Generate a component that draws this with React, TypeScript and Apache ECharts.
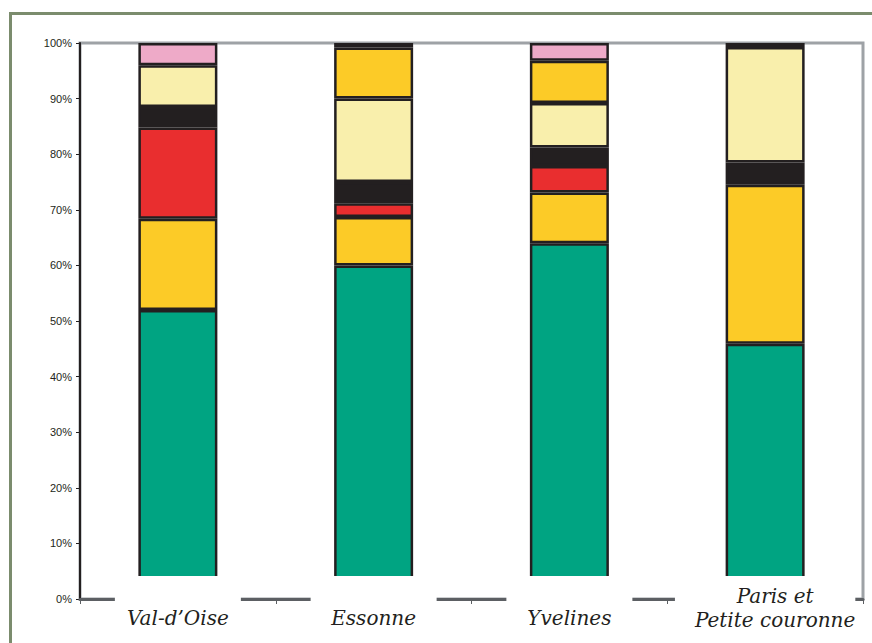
import React, { useEffect, useRef } from "react";
import * as echarts from "echarts";

const categories = ["Val-d’Oise", "Essonne", "Yvelines", "Paris et\nPetite couronne"];
const yTicks = [0, 10, 20, 30, 40, 50, 60, 70, 80, 90, 100];

const greenValues = [52.0, 60.0, 64.0, 45.9];
const yellowValues = [16.4, 8.7, 9.1, 28.6];
const redValues = [16.4, 2.5, 4.8, 0];
const blackValues = [3.7, 3.8, 3.3, 4.0];
const lightYellowValues = [7.5, 15.0, 8.0, 20.8];
const yellowTopValues = [0, 9.2, 7.6, 0];
const pinkValues = [4.0, 0.8, 3.2, 0.7];

const seriesDefs = [
  { name: "Série 1", values: greenValues, color: "#00a482" },
  { name: "Série 2", values: yellowValues, color: "#fccb27" },
  { name: "Série 3", values: redValues, color: "#e92e2f" },
  { name: "Série 4", values: blackValues, color: "#231f20" },
  { name: "Série 5", values: lightYellowValues, color: "#f9efac" },
  { name: "Série 6", values: yellowTopValues, color: "#fccb27" },
  { name: "Série 7", values: pinkValues, color: "#eeaac8" },
];

const INK = "#231f20";
const SERIF = "'DejaVu Serif', serif";

export default function App() {
  const ref = useRef<HTMLDivElement>(null);

  useEffect(() => {
    if (!ref.current) return;
    const chart = echarts.init(ref.current, null, { renderer: "svg" });
    const series = seriesDefs.map((s, si) => ({
      name: s.name,
      type: "bar",
      stack: "total",
      barWidth: 79,
      itemStyle: { color: s.color, borderColor: INK, borderWidth: 2.5 },
      data: s.values.map((v, i) => {
        if (v === 0) return "-";
        if (si === seriesDefs.length - 1 && i === 3) {
          return { value: v, itemStyle: { color: INK } };
        }
        return v;
      }),
    }));

    const axisData = categories.map((c, i) =>
      i === categories.length - 1
        ? { value: c, textStyle: { padding: [8, 0, 0, 20] } }
        : c
    );

    chart.setOption({
      animation: false,
      backgroundColor: "#ffffff",
      grid: {
        left: 80,
        top: 43,
        right: 9,
        bottom: 44,
        containLabel: false,
        outerBoundsMode: "none",
        show: true,
        borderColor: "#9ea2a6",
        borderWidth: 3,
        backgroundColor: "transparent",
      },
      graphic: [
        {
          type: "rect",
          shape: { x: 10.5, y: 13.5, width: 900, height: 700 },
          style: { fill: "none", stroke: "#7b8c6d", lineWidth: 3 },
          silent: true,
        },
      ],
      xAxis: {
        type: "category",
        data: axisData,
        z: 10,
        axisLine: { show: true, lineStyle: { color: "#5c5f63", width: 3 } },
        axisTick: { show: true, length: 5, lineStyle: { color: "#5c5f63", width: 1 } },
        axisLabel: {
          interval: 0,
          margin: -23,
          backgroundColor: "#ffffff",
          padding: [8, 12, 0, 12],
          formatter: (v: string, i: number) => (i === 3 ? `{two|${v}}` : `{one|${v}}`),
          rich: {
            one: {
              fontFamily: SERIF,
              fontStyle: "italic",
              fontSize: 20,
              lineHeight: 68,
              width: 102,
              align: "center",
              color: INK,
            },
            two: {
              fontFamily: SERIF,
              fontStyle: "italic",
              fontSize: 20,
              lineHeight: 24,
              color: INK,
            },
          },
        },
      },
      yAxis: {
        type: "value",
        min: yTicks[0],
        max: yTicks[yTicks.length - 1],
        interval: 10,
        axisLine: { show: true, lineStyle: { color: INK, width: 2 } },
        axisTick: { show: true, length: 4, lineStyle: { color: INK, width: 1 } },
        axisLabel: {
          formatter: "{value}%",
          fontFamily: "'Liberation Sans', Arial, sans-serif",
          fontSize: 11,
          color: INK,
          margin: 8,
        },
        splitLine: { show: false },
      },
      series,
    });
    return () => chart.dispose();
  }, []);

  return (
    <div
      ref={ref}
      style={{ position: "fixed", left: 0, top: 0, width: 872, height: 643, background: "#fff" }}
    />
  );
}
